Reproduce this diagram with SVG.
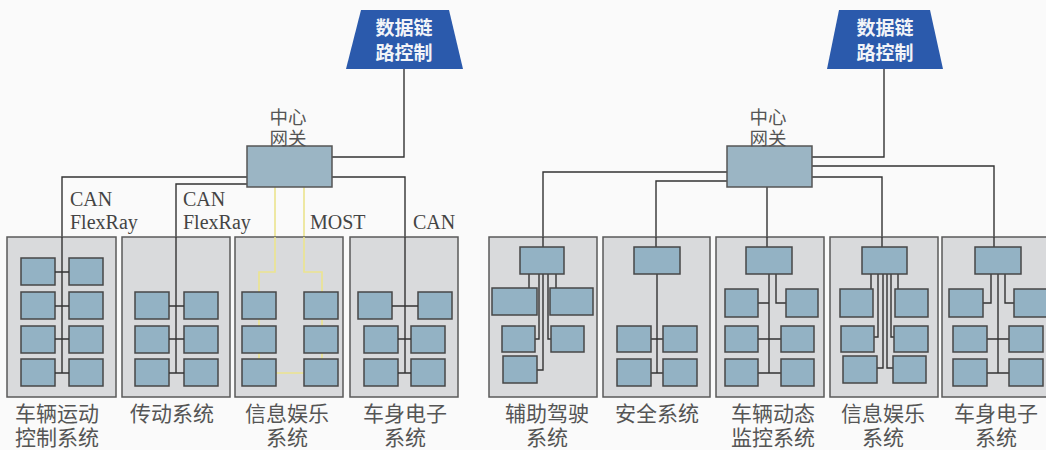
<svg xmlns="http://www.w3.org/2000/svg" width="1046" height="450" viewBox="0 0 1046 450">
<style>
.bg{fill:#fafafa}
.dom{fill:#d9dadc;stroke:#5a5a5a;stroke-width:1.5}
.ecu{fill:#93b2c4;stroke:#474747;stroke-width:1.5}
.gw{fill:#9bb5c4;stroke:#555;stroke-width:1.5}
.dl{fill:#2b5aac}
.w{fill:none;stroke:#333;stroke-width:1.4}
.most{fill:none;stroke:#ece48e;stroke-width:1.6}
.lbl{font-family:"Liberation Sans","Noto Sans CJK SC",sans-serif;font-size:21px;fill:#555;text-anchor:middle}
.gl{font-family:"Liberation Sans","Noto Sans CJK SC",sans-serif;font-size:18.5px;fill:#555;text-anchor:middle}
.dt{font-family:"Liberation Sans","Noto Sans CJK SC",sans-serif;font-size:19px;font-weight:bold;fill:#f2f4f8;text-anchor:middle}
.bus{font-family:"Liberation Serif",serif;font-size:20px;fill:#444}
</style>
<rect class="bg" x="0" y="0" width="1046" height="450"/>

<g id="connectors">
  <path class="w" d="M404,69 V157 H332"/>
  <path class="w" d="M247,177 H62 V237"/>
  <path class="w" d="M247,184 H176 V237"/>
  <path class="w" d="M332,177 H405 V237"/>
  <path class="most" d="M275,187 V237 M304,187 V237"/>
  <path class="w" d="M884,69 V157 H812"/>
  <path class="w" d="M727,172 H543 V237"/>
  <path class="w" d="M727,181 H656 V237"/>
  <path class="w" d="M767,187 V237"/>
  <path class="w" d="M812,177 H882 V237"/>
  <path class="w" d="M812,166 H994 V237"/>
</g>

<g id="gateway-left">
  <rect class="gw" x="247" y="146" width="85" height="41"/>
  <text class="gl" x="288" y="124">中心</text>
  <text class="gl" x="288" y="145">网关</text>
</g>
<g id="datalink-left">
  <polygon class="dl" points="361,10 449,10 463,69 346,69"/>
  <text class="dt" x="404" y="35">数据链</text>
  <text class="dt" x="404" y="60">路控制</text>
</g>

<g id="bus-labels">
  <text class="bus" x="70" y="206">CAN</text>
  <text class="bus" x="70" y="229">FlexRay</text>
  <text class="bus" x="183" y="206">CAN</text>
  <text class="bus" x="183" y="229">FlexRay</text>
  <text class="bus" x="310" y="229">MOST</text>
  <text class="bus" x="413" y="229">CAN</text>
</g>

<g id="dom-vehicle-motion">
  <rect class="dom" x="7" y="237" width="109" height="160"/>
  <rect class="ecu" x="21" y="258" width="34" height="27"/>
  <rect class="ecu" x="69" y="258" width="34" height="27"/>
  <rect class="ecu" x="21" y="292" width="34" height="27"/>
  <rect class="ecu" x="69" y="292" width="34" height="27"/>
  <rect class="ecu" x="21" y="326" width="34" height="27"/>
  <rect class="ecu" x="69" y="326" width="34" height="27"/>
  <rect class="ecu" x="21" y="359" width="34" height="27"/>
  <rect class="ecu" x="69" y="359" width="34" height="27"/>
  <path class="w" d="M62,237 V373 M55,272 H69 M55,306 H69 M55,339 H69 M55,373 H69"/>
  <text class="lbl" x="57" y="421">车辆运动</text>
  <text class="lbl" x="57" y="445">控制系统</text>
</g>

<g id="dom-powertrain">
  <rect class="dom" x="122" y="237" width="108" height="160"/>
  <rect class="ecu" x="135" y="292" width="34" height="27"/>
  <rect class="ecu" x="184" y="292" width="34" height="27"/>
  <rect class="ecu" x="135" y="326" width="34" height="27"/>
  <rect class="ecu" x="184" y="326" width="34" height="27"/>
  <rect class="ecu" x="135" y="359" width="34" height="27"/>
  <rect class="ecu" x="184" y="359" width="34" height="27"/>
  <path class="w" d="M176,237 V373 M169,306 H184 M169,339 H184 M169,373 H184"/>
  <text class="lbl" x="172" y="421">传动系统</text>
</g>

<g id="dom-infotainment-left">
  <rect class="dom" x="235" y="237" width="108" height="160"/>
  <path class="most" d="M275,237 V272 H259 V292 M304,237 V272 H322 V292 M259,319 V326 M259,353 V359 M322,319 V326 M322,353 V359 M276,373 H304"/>
  <rect class="ecu" x="242" y="292" width="34" height="27"/>
  <rect class="ecu" x="304" y="292" width="34" height="27"/>
  <rect class="ecu" x="242" y="326" width="34" height="27"/>
  <rect class="ecu" x="304" y="326" width="34" height="27"/>
  <rect class="ecu" x="242" y="359" width="34" height="27"/>
  <rect class="ecu" x="304" y="359" width="34" height="27"/>
  <text class="lbl" x="287" y="421">信息娱乐</text>
  <text class="lbl" x="287" y="445">系统</text>
</g>

<g id="dom-body-left">
  <rect class="dom" x="350" y="237" width="108" height="160"/>
  <rect class="ecu" x="358" y="292" width="34" height="27"/>
  <rect class="ecu" x="418" y="292" width="34" height="27"/>
  <rect class="ecu" x="364" y="326" width="34" height="27"/>
  <rect class="ecu" x="411" y="326" width="34" height="27"/>
  <rect class="ecu" x="364" y="359" width="34" height="27"/>
  <rect class="ecu" x="411" y="359" width="34" height="27"/>
  <path class="w" d="M405,237 V373 M392,306 H418 M398,339 H411 M398,373 H411"/>
  <text class="lbl" x="405" y="421">车身电子</text>
  <text class="lbl" x="405" y="445">系统</text>
</g>

<g id="gateway-right">
  <rect class="gw" x="727" y="146" width="85" height="41"/>
  <text class="gl" x="768" y="124">中心</text>
  <text class="gl" x="768" y="145">网关</text>
</g>
<g id="datalink-right">
  <polygon class="dl" points="839,10 930,10 943,69 827,69"/>
  <text class="dt" x="885" y="35">数据链</text>
  <text class="dt" x="885" y="60">路控制</text>
</g>

<g id="dom-adas">
  <rect class="dom" x="489" y="237" width="108" height="160"/>
  <path class="w" d="M543,237 V247 M529,274 V288 M556,274 V288 M539,274 V339 H535 M548,274 V339 H551 M543,274 V370 H537"/>
  <rect class="ecu" x="520" y="247" width="44" height="27"/>
  <rect class="ecu" x="492" y="288" width="45" height="27"/>
  <rect class="ecu" x="550" y="288" width="43" height="27"/>
  <rect class="ecu" x="502" y="326" width="33" height="26"/>
  <rect class="ecu" x="551" y="326" width="33" height="26"/>
  <rect class="ecu" x="503" y="356" width="34" height="27"/>
  <text class="lbl" x="547" y="421">辅助驾驶</text>
  <text class="lbl" x="547" y="445">系统</text>
</g>

<g id="dom-safety">
  <rect class="dom" x="603" y="237" width="107" height="160"/>
  <path class="w" d="M656,237 V247 M657,274 V373 M651,339 H663 M651,373 H663"/>
  <rect class="ecu" x="634" y="247" width="46" height="27"/>
  <rect class="ecu" x="617" y="326" width="34" height="26"/>
  <rect class="ecu" x="663" y="326" width="34" height="26"/>
  <rect class="ecu" x="617" y="359" width="34" height="27"/>
  <rect class="ecu" x="663" y="359" width="34" height="27"/>
  <text class="lbl" x="657" y="421">安全系统</text>
</g>

<g id="dom-dynamics">
  <rect class="dom" x="716" y="237" width="108" height="160"/>
  <path class="w" d="M767,237 V247 M769,274 V373 M776,274 V303 H786 M758,303 H769 M758,339 H781 M758,373 H781"/>
  <rect class="ecu" x="746" y="247" width="46" height="27"/>
  <rect class="ecu" x="725" y="289" width="33" height="28"/>
  <rect class="ecu" x="786" y="289" width="32" height="28"/>
  <rect class="ecu" x="725" y="326" width="33" height="26"/>
  <rect class="ecu" x="781" y="326" width="33" height="26"/>
  <rect class="ecu" x="725" y="359" width="33" height="27"/>
  <rect class="ecu" x="781" y="359" width="33" height="27"/>
  <text class="lbl" x="773" y="421">车辆动态</text>
  <text class="lbl" x="773" y="445">监控系统</text>
</g>

<g id="dom-infotainment-right">
  <rect class="dom" x="830" y="237" width="108" height="160"/>
  <path class="w" d="M882,237 V247 M871,274 V289 M898,274 V289 M878,274 V337 H874 M891,274 V337 H894 M883,274 V368 H877 M887,274 V368 H893"/>
  <rect class="ecu" x="862" y="247" width="45" height="27"/>
  <rect class="ecu" x="840" y="289" width="33" height="28"/>
  <rect class="ecu" x="895" y="289" width="33" height="28"/>
  <rect class="ecu" x="841" y="326" width="33" height="26"/>
  <rect class="ecu" x="894" y="326" width="34" height="26"/>
  <rect class="ecu" x="843" y="356" width="34" height="27"/>
  <rect class="ecu" x="893" y="356" width="33" height="27"/>
  <text class="lbl" x="883" y="421">信息娱乐</text>
  <text class="lbl" x="883" y="445">系统</text>
</g>

<g id="dom-body-right">
  <rect class="dom" x="942" y="237" width="110" height="160"/>
  <path class="w" d="M994,237 V247 M998,274 V373 M991,274 V303 H983 M1005,274 V303 H1014 M987,339 H1009 M987,373 H1009"/>
  <rect class="ecu" x="975" y="247" width="46" height="27"/>
  <rect class="ecu" x="949" y="289" width="34" height="28"/>
  <rect class="ecu" x="1014" y="289" width="40" height="28"/>
  <rect class="ecu" x="953" y="326" width="34" height="26"/>
  <rect class="ecu" x="1009" y="326" width="34" height="26"/>
  <rect class="ecu" x="953" y="359" width="34" height="27"/>
  <rect class="ecu" x="1009" y="359" width="34" height="27"/>
  <text class="lbl" x="996" y="421">车身电子</text>
  <text class="lbl" x="996" y="445">系统</text>
</g>
</svg>
